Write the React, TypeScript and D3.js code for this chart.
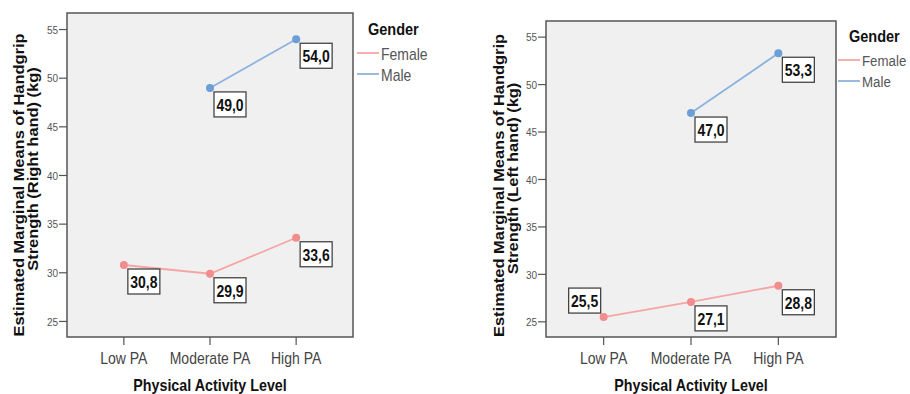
import React, { useEffect } from "react";
import * as d3 from "d3";

const categories = ["Low PA", "Moderate PA", "High PA"];
const yTicks = [25, 30, 35, 40, 45, 50, 55];
const rightFemale: (number | null)[] = [30.8, 29.9, 33.6];
const rightMale: (number | null)[] = [null, 49.0, 54.0];
const leftFemale: (number | null)[] = [25.5, 27.1, 28.8];
const leftMale: (number | null)[] = [null, 47.0, 53.3];
const rightFemalePos = ["br", "br", "br"];
const rightMalePos = ["br", "br", "br"];
const leftFemalePos = ["tl", "br", "br"];
const leftMalePos = ["br", "br", "br"];
const seriesNames = ["Female", "Male"];

const W = 910;
const H = 394;
const SY = 1.15;
const FONT = "'Liberation Sans', Arial, Helvetica, sans-serif";
const FEMALE_LINE = "#f6a5a5";
const FEMALE_DOT = "#f38c8c";
const MALE_LINE = "#8cb3df";
const MALE_DOT = "#6c9fd6";

function T(props: {
  x: number; y: number; children: React.ReactNode; size: number; bold?: boolean;
  anchor?: string; fill?: string; rotate?: boolean;
}) {
  const { x, y, children, size, bold, anchor = "start", fill = "#333", rotate } = props;
  return (
    <text
      transform={`translate(${x},${y}) scale(1,${SY})${rotate ? " rotate(-90)" : ""}`}
      fontSize={size}
      fontWeight={bold ? "bold" : "normal"}
      textAnchor={anchor}
      dominantBaseline="central"
      fill={fill}
      fontFamily={FONT}
    >
      {children}
    </text>
  );
}

type PanelProps = {
  left: number; right: number; top: number; bottom: number;
  female: (number | null)[]; male: (number | null)[];
  femalePos: string[]; malePos: string[];
  title2: string; t1y: number; t2y: number; t1x: number; t2x: number;
  legendY: number; legendX: number; legendSize: number;
};

function Panel(p: PanelProps) {
  const x = d3.scalePoint<string>().domain(categories).range([p.left, p.right]).padding(0.66);
  const y = d3.scaleLinear().domain([23.4, 56.7]).range([p.bottom, p.top]);
  const line = d3
    .line<[string, number | null]>()
    .defined((d) => d[1] != null)
    .x((d) => x(d[0]) as number)
    .y((d) => y(d[1] as number));
  const series = [
    { vals: p.female, pos: p.femalePos, lc: FEMALE_LINE, dc: FEMALE_DOT },
    { vals: p.male, pos: p.malePos, lc: MALE_LINE, dc: MALE_DOT },
  ];
  const fmt = (v: number) => v.toFixed(1).replace(".", ",");
  const bw = 32, bh = 25;
  const lx = p.legendX;
  return (
    <g>
      <rect x={p.left} y={p.top} width={p.right - p.left} height={p.bottom - p.top}
        fill="#f0f0f0" stroke="#555" strokeWidth={1.5} />
      {yTicks.map((t) => (
        <g key={t}>
          <line x1={p.left - 8} x2={p.left} y1={y(t)} y2={y(t)} stroke="#555" strokeWidth={1.2} />
          <T x={p.left - 9} y={y(t)} size={10} anchor="end" fill="#555">{t}</T>
        </g>
      ))}
      {categories.map((c) => (
        <g key={c}>
          <line x1={x(c)} x2={x(c)} y1={p.bottom} y2={p.bottom + 8} stroke="#555" strokeWidth={1.2} />
          <T x={x(c) as number} y={358} size={14} anchor="middle" fill="#444">{c}</T>
        </g>
      ))}
      <T x={(p.left + p.right) / 2} y={385} size={14.3} bold anchor="middle" fill="#111">
        Physical Activity Level
      </T>
      <T x={p.t1x} y={p.t1y} size={14.3} bold anchor="middle" fill="#111" rotate>
        Estimated Marginal Means of Handgrip
      </T>
      <T x={p.t2x} y={p.t2y} size={14.3} bold anchor="middle" fill="#111" rotate>
        {p.title2}
      </T>
      {series.map((s, si) => {
        const data = categories.map((c, i) => [c, s.vals[i]] as [string, number | null]);
        return (
          <g key={si}>
            <path d={line(data) || ""} fill="none" stroke={s.lc} strokeWidth={1.8} />
            {data.map((d, i) =>
              d[1] == null ? null : (
                <circle key={i} cx={x(d[0])} cy={y(d[1])} r={4} fill={s.dc} />
              )
            )}
          </g>
        );
      })}
      {series.map((s, si) =>
        categories.map((c, i) => {
          const v = s.vals[i];
          if (v == null) return null;
          const px = x(c) as number;
          const py = y(v);
          const tl = s.pos[i] === "tl";
          const bx = tl ? px - 3 - bw : px + 4;
          const by = tl ? py - 4 - bh : py + 4;
          return (
            <g key={`${si}-${i}`}>
              <rect x={bx} y={by} width={bw} height={bh} fill="#fff" stroke="#444" strokeWidth={1.3} />
              <T x={bx + bw / 2} y={by + bh / 2 + 0.5} size={14} bold anchor="middle" fill="#111">
                {fmt(v)}
              </T>
            </g>
          );
        })
      )}
      <T x={lx + 11} y={p.legendY} size={14.5} bold fill="#111">Gender</T>
      {seriesNames.map((n, i) => (
        <g key={n}>
          <line x1={lx} x2={lx + 22} y1={p.legendY + 24 + i * 21} y2={p.legendY + 24 + i * 21}
            stroke={i === 0 ? FEMALE_LINE : MALE_LINE} strokeWidth={1.8} />
          <T x={lx + 24} y={p.legendY + 25 + i * 21} size={p.legendSize} fill="#555">{n}</T>
        </g>
      ))}
    </g>
  );
}

export default function App() {
  useEffect(() => {
    document.body.style.margin = "0";
  }, []);
  return (
    <svg width={W} height={H} viewBox={`0 0 ${W} ${H}`}
      style={{ display: "block", position: "absolute", left: 0, top: 0, background: "#fff" }}>
      <Panel left={67} right={353} top={13} bottom={337}
        female={rightFemale} male={rightMale} femalePos={rightFemalePos} malePos={rightMalePos}
        title2="Strength (Right hand) (kg)" t1x={19} t2x={33} t1y={185} t2y={169}
        legendY={29} legendX={357} legendSize={14} />
      <Panel left={546} right={836} top={21} bottom={337}
        female={leftFemale} male={leftMale} femalePos={leftFemalePos} malePos={leftMalePos}
        title2="Strength (Left hand) (kg)" t1x={499} t2x={513} t1y={185.5} t2y={178.5}
        legendY={36} legendX={838} legendSize={13.3} />
    </svg>
  );
}
